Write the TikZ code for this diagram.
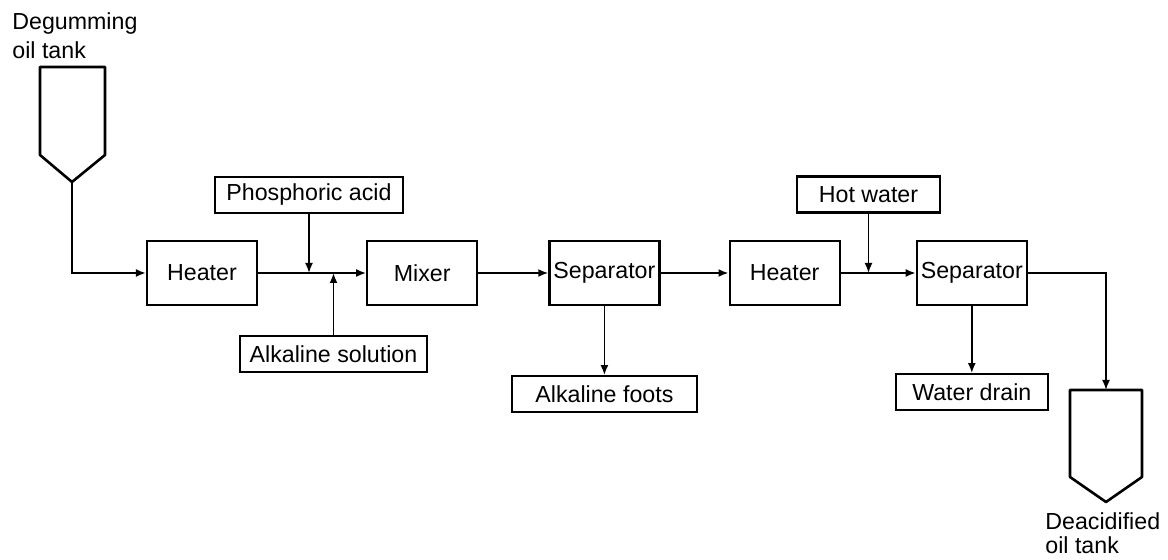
\documentclass[tikz,border=0pt]{standalone}
\usepackage{fontspec}
\setmainfont{Liberation Sans}
\usepackage{tikz}
\usetikzlibrary{positioning,arrows.meta,calc}

\begin{document}
\begin{tikzpicture}[
  x=1pt, y=1pt,
  font=\fontsize{11.6}{15}\selectfont,
  unit/.style ={draw, line width=1.1pt, inner sep=1pt,
                minimum width=55pt, minimum height=32pt},
  feed/.style ={draw, line width=1.1pt, inner sep=1pt,
                minimum height=18pt},
  tank/.style ={draw, line width=1.3pt, line join=round},
  tanklabel/.style={anchor=north west, inner sep=0pt, align=left},
  arr/.style  ={-{Latex[length=5pt,width=4pt]}, line width=0.9pt},
  node distance=5mm,
]
\useasboundingbox (0,0) rectangle (584,-280);

% main line
\node[unit] (heat1) at (101,-136.5) {Heater};
\node[unit, right=54pt of heat1] (mixer) {Mixer};
\node[unit, right=35pt of mixer] (sep1) {Separator};
\node[unit, right=34pt of sep1] (heat2) {Heater};
\node[unit, right=37.5pt of heat2] (sep2) {Separator};

% feeds and outlets
\node[feed, minimum width=94pt] (phos) at (154.5,-97.5) {Phosphoric acid};
\node[feed, minimum width=93.5pt] (alk) at (166.75,-177) {Alkaline solution};
\node[feed, minimum width=92.5pt, below=34.5pt of sep1] (foots) {Alkaline foots};
\node[feed, minimum width=71.5pt] (hot) at (434.25,-97.25) {Hot water};
\node[feed, minimum width=76pt, below=33.5pt of sep2] (drain) {Water drain};

% tanks
\draw[tank] (20,-33.5) -- (20,-77.5) -- (36,-91) -- (52.5,-77.5) -- (52.5,-33.5) -- cycle;
\coordinate (tank1) at (36,-91);
\node[tanklabel, font=\fontsize{11.6}{14.5}\selectfont] (tank1lbl) at (6,-6) {Degumming\\oil tank};

\draw[tank] (535,-195) -- (535,-238.5) -- (553,-251) -- (571,-238.5) -- (571,-195) -- cycle;
\coordinate (tank2) at (553,-195);
\node[tanklabel, font=\fontsize{11.6}{12.3}\selectfont] (tank2lbl) at (522.5,-256) {Deacidified\\oil tank};

% connectors
\draw[arr] (tank1) |- (heat1.west);
\draw[arr] (heat1) -- (mixer);
\draw[arr] (phos.south) -- (phos.south |- heat1.east);
\draw[arr] (alk.north) -- (alk.north |- heat1.east);
\draw[arr] (mixer) -- (sep1);
\draw[arr] (sep1) -- (foots);
\draw[arr] (sep1) -- (heat2);
\draw[arr] (heat2) -- (sep2);
\draw[arr] (hot.south) -- (hot.south |- heat2.east);
\draw[arr] (sep2) -- (drain);
\draw[arr] (sep2.east) -| (tank2);

\end{tikzpicture}
\end{document}
